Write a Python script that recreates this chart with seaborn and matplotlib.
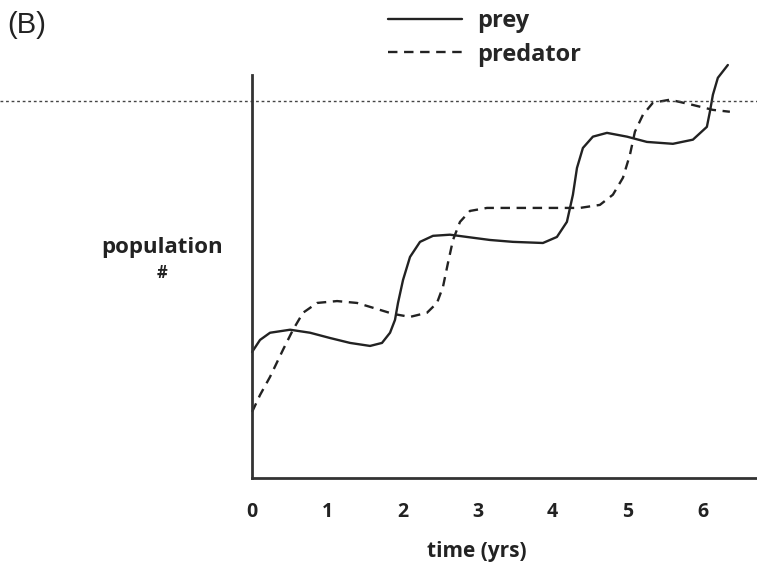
import numpy as np
import pandas as pd
import seaborn as sns
import matplotlib
matplotlib.use("Agg")
import matplotlib.pyplot as plt
from matplotlib.lines import Line2D

# values (time in years, population in arbitrary units, 100 = dotted line)
prey_t = [0.000, 0.106, 0.239, 0.506, 0.772, 1.038, 1.304, 1.570, 1.729, 1.836, 1.902, 1.942,
          2.009, 2.102, 2.235, 2.408, 2.634, 2.860, 3.166, 3.472, 3.871, 4.057, 4.190, 4.270,
          4.324, 4.403, 4.536, 4.723, 4.989, 5.255, 5.601, 5.867, 6.053, 6.093, 6.133, 6.199,
          6.332]
prey_y = [33.4, 36.6, 38.5, 39.3, 38.5, 37.1, 35.8, 35.0, 35.8, 38.5, 41.9, 46.4,
          52.5, 58.6, 62.6, 64.2, 64.5, 63.9, 63.1, 62.6, 62.3, 63.9, 67.9, 75.1,
          82.2, 87.5, 90.5, 91.5, 90.5, 89.1, 88.6, 89.7, 93.1, 97.1, 101.6, 106.1,
          109.5]
pred_t = [0.000, 0.106, 0.239, 0.412, 0.545, 0.678, 0.865, 1.131, 1.397, 1.663, 1.876, 2.102,
          2.328, 2.461, 2.541, 2.607, 2.674, 2.767, 2.900, 3.126, 3.700, 4.363, 4.629, 4.802,
          4.936, 5.029, 5.095, 5.202, 5.335, 5.561, 5.867, 6.133, 6.359]
pred_y = [17.5, 22.0, 26.8, 34.0, 39.3, 43.8, 46.4, 46.9, 46.4, 44.8, 43.5, 42.7,
          43.8, 46.4, 50.7, 57.0, 63.1, 67.9, 70.8, 71.6, 71.6, 71.6, 72.4, 75.1,
          79.6, 85.7, 91.8, 96.3, 99.5, 100.3, 98.9, 97.6, 97.1]
carrying = 100
xticks = [0, 1, 2, 3, 4, 5, 6]

df = pd.concat([
    pd.DataFrame({"t": prey_t, "pop": prey_y, "who": "prey"}),
    pd.DataFrame({"t": pred_t, "pop": pred_y, "who": "predator"}),
])

sns.set_style("white")
plt.rcParams["font.family"] = ["Open Sans", "DejaVu Sans"]
ink = "#222222"
dash = (4, 2.8)

fig = plt.figure(figsize=(7.57, 5.71), dpi=100)
ax = fig.add_axes([0.333, 0.163, 0.667, 0.706])

sns.lineplot(data=df, x="t", y="pop", style="who", style_order=["prey", "predator"],
             dashes={"prey": "", "predator": dash}, color=ink, linewidth=1.7,
             sort=False, legend=False, ax=ax, clip_on=False)

# carrying capacity line runs across the whole figure
ax.axhline(carrying, xmin=-0.5, xmax=1, color="#444444", linestyle=(0, (2, 2)),
           linewidth=1.0, clip_on=False)

ax.set_xlim(0, 6.72)
ax.set_ylim(0, 106.9)
ax.set_xticks(xticks)
ax.set_xticklabels([str(v) for v in xticks], fontsize=14, fontweight="bold", color=ink)
ax.set_yticks([])
ax.tick_params(axis="x", length=0, pad=17)
sns.despine(ax=ax)
for s in ["left", "bottom"]:
    ax.spines[s].set_linewidth(2)
    ax.spines[s].set_color("#333333")
ax.set_xlabel("")
ax.set_ylabel("")

fig.text(477 / 757, 1 - 552 / 571, "time (yrs)", ha="center", va="center",
         fontsize=15, fontweight="bold", color=ink)
fig.text(162 / 757, 1 - 248 / 571, "population", ha="center", va="center",
         fontsize=16, fontweight="bold", color=ink)
fig.text(162 / 757, 1 - 273 / 571, "#", ha="center", va="center",
         fontsize=12, fontweight="bold", color=ink)
fig.text(7 / 757, 1 - 25 / 571, "(B)", ha="left", va="center",
         fontsize=21, color=ink, family=["Liberation Sans", "DejaVu Sans"])

handles = [Line2D([], [], color=ink, linewidth=1.7),
           Line2D([], [], color=ink, linewidth=1.7, linestyle=(0, dash))]
fig.legend(handles, ["prey", "predator"], loc="upper left",
           bbox_to_anchor=(386 / 757, 0.988), frameon=False, handlelength=3.1,
           prop={"weight": "bold", "size": 17}, labelspacing=0.4,
           handletextpad=0.65, borderpad=0.1, borderaxespad=0.0)

fig.savefig("out.png", dpi=100)
